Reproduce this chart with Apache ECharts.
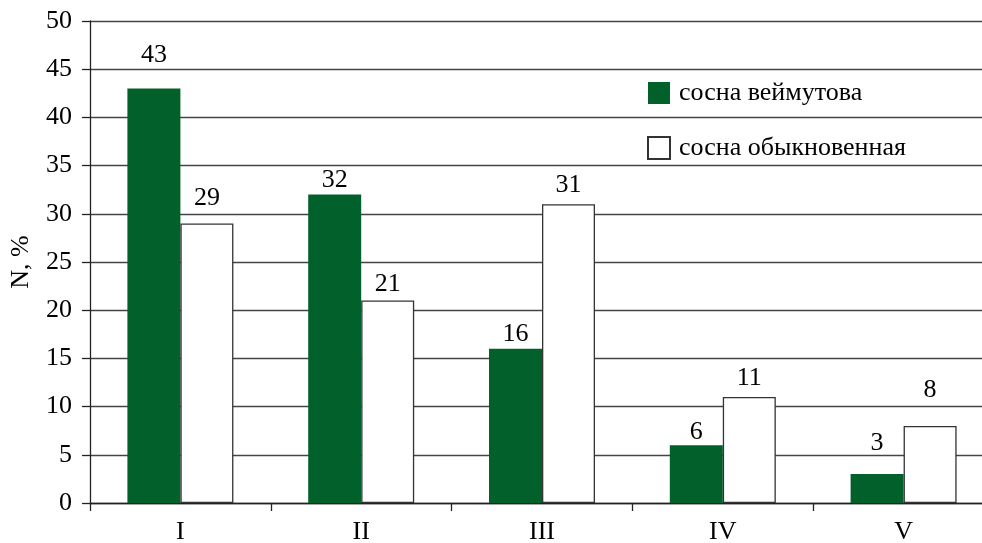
<!DOCTYPE html>
<html>
<head>
<meta charset="utf-8">
<script src="https://cdn.jsdelivr.net/npm/echarts@6/dist/echarts.min.js"></script>
<style>
  html, body { margin: 0; padding: 0; background: #fff; }
  #chart { width: 982px; height: 543px; }
</style>
</head>
<body>
<div id="chart"></div>
<script>
// Categories (classes) and percentage shares for the two pine species
const categories = ['I', 'II', 'III', 'IV', 'V'];
const seriesNames = ['сосна веймутова', 'сосна обыкновенная'];
const weymouthPine = [43, 32, 16, 6, 3];
const scotsPine = [29, 21, 31, 11, 8];
const yTicks = { min: 0, max: 50, interval: 5 };
const yAxisTitle = 'N, %';

// Label gaps above each bar (px), in the same order as the categories
const weymouthLabelGap = [20, 1, 2, 0, 18];
const scotsLabelGap = [12, 3, 6, 6, 23];

const FONT = 'Liberation Serif';
const FS = 26;
const GREEN = '#02612A';

function withLabelGap(values, gaps) {
  return values.map((v, i) => ({ value: v, label: { distance: gaps[i] } }));
}

const chart = echarts.init(document.getElementById('chart'), null, { renderer: 'canvas' });

chart.setOption({
  animation: false,
  backgroundColor: '#ffffff',
  textStyle: { fontFamily: FONT, color: '#000' },
  grid: { left: 90, top: 21, bottom: 40, right: -12, containLabel: false, outerBoundsMode: 'none' },
  legend: {
    orient: 'vertical',
    left: 647,
    top: 80,
    padding: 0,
    itemWidth: 22,
    itemHeight: 22,
    itemGap: 29,
    icon: 'rect',
    textStyle: { fontFamily: FONT, fontSize: FS, color: '#000', padding: [0, 0, 0, 4] },
    data: seriesNames
  },
  xAxis: {
    type: 'category',
    data: categories,
    axisLine: { lineStyle: { color: '#222', width: 1.3 } },
    axisTick: { show: true, length: 8, inside: false, lineStyle: { color: '#222', width: 1.3 } },
    axisLabel: { fontFamily: FONT, fontSize: FS, color: '#000', margin: 16 },
    splitLine: { show: false }
  },
  yAxis: {
    type: 'value',
    min: yTicks.min,
    max: yTicks.max,
    interval: yTicks.interval,
    name: yAxisTitle,
    nameLocation: 'middle',
    nameGap: 56,
    nameRotate: 90,
    nameTextStyle: { fontFamily: FONT, fontSize: FS, color: '#000' },
    axisLine: { show: true, lineStyle: { color: '#222', width: 1.3 } },
    axisTick: { show: true, length: 8, inside: false, lineStyle: { color: '#222', width: 1.3 } },
    axisLabel: { fontFamily: FONT, fontSize: FS, color: '#000', margin: 18 },
    splitLine: { show: true, lineStyle: { color: '#444', width: 1.3 } }
  },
  series: [
    {
      name: seriesNames[0],
      type: 'bar',
      barWidth: 53,
      barGap: '0%',
      data: withLabelGap(weymouthPine, weymouthLabelGap),
      itemStyle: { color: GREEN },
      label: { show: true, position: 'top', fontFamily: FONT, fontSize: FS, color: '#000' }
    },
    {
      name: seriesNames[1],
      type: 'bar',
      barWidth: 53,
      barGap: '0%',
      data: withLabelGap(scotsPine, scotsLabelGap),
      itemStyle: { color: '#ffffff', borderColor: '#333', borderWidth: 1.3 },
      label: { show: true, position: 'top', fontFamily: FONT, fontSize: FS, color: '#000' }
    }
  ]
});
</script>
</body>
</html>
